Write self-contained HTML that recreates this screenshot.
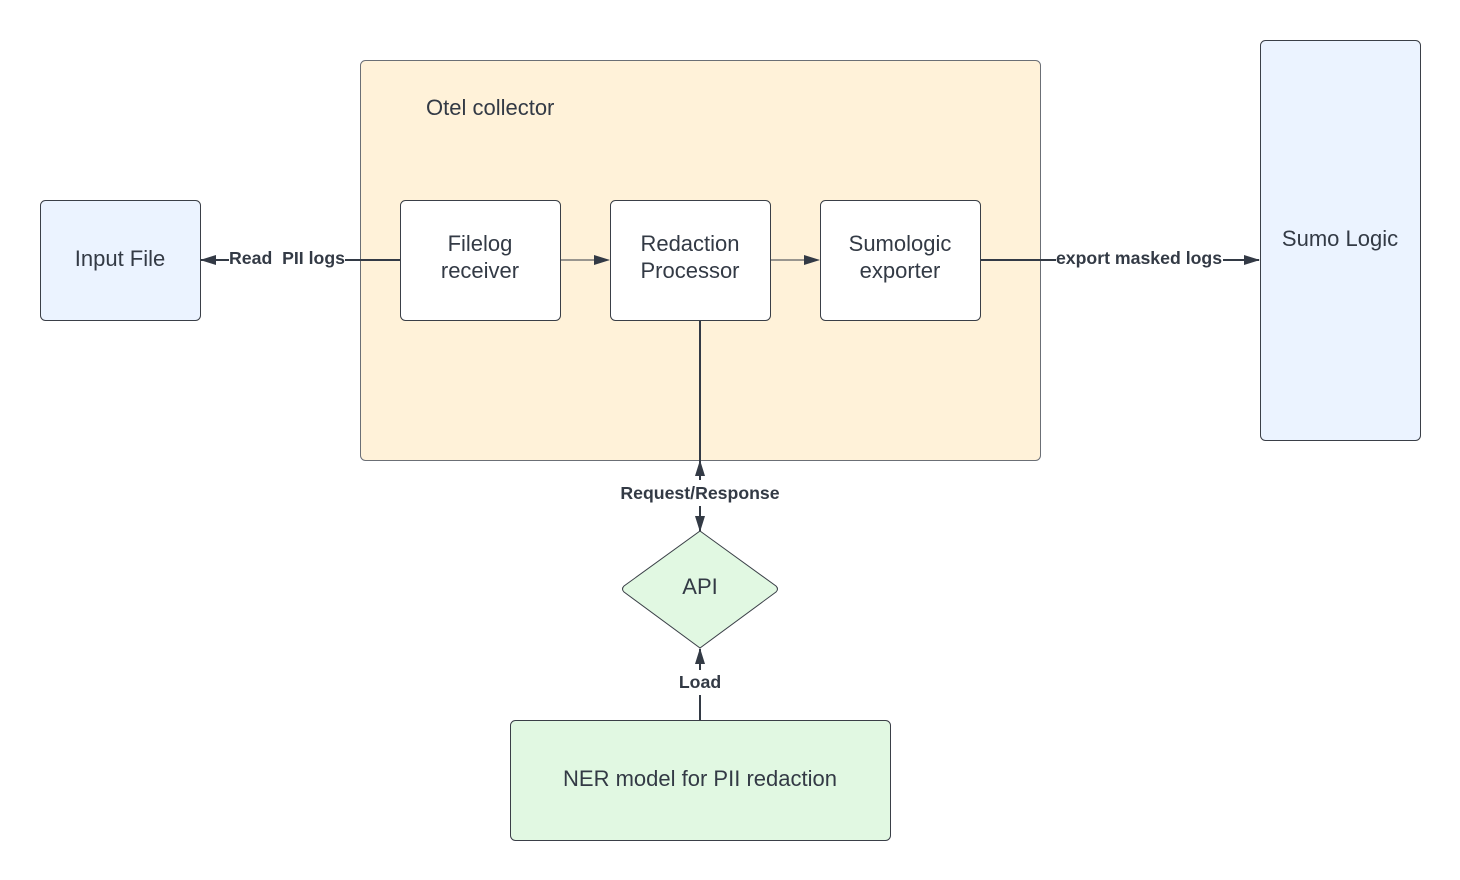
<!DOCTYPE html>
<html><head><meta charset="utf-8"><style>
html,body{margin:0;padding:0;background:#fff;width:1460px;height:880px;overflow:hidden}
svg{display:block}
text{font-family:"Liberation Sans",sans-serif;fill:#333a45}
.n{font-size:22px}
.b{font-size:17.7px;font-weight:bold}
</style></head><body>
<svg width="1460" height="880" viewBox="0 0 1460 880">
<defs>
<marker id="a" markerWidth="16" markerHeight="12" refX="15" refY="6" orient="auto" markerUnits="userSpaceOnUse">
<path d="M0,1 L16,6 L0,11 Z" fill="#333a45"/></marker>
</defs>
<rect x="360.5" y="60.5" width="680" height="400" rx="5" fill="#fff2d9" stroke="#6b6f75" stroke-width="1"/>
<text class="n" x="426" y="115">Otel collector</text>
<rect x="40.5" y="200.5" width="160" height="120" rx="5" fill="#ebf3ff" stroke="#3a3f47"/>
<text class="n" x="120" y="266" text-anchor="middle">Input File</text>
<rect x="1260.5" y="40.5" width="160" height="400" rx="5" fill="#ebf3ff" stroke="#3a3f47"/>
<text class="n" x="1340" y="246" text-anchor="middle">Sumo Logic</text>
<rect x="400.5" y="200.5" width="160" height="120" rx="5" fill="#fff" stroke="#3a3f47"/>
<text class="n" x="480" y="251" text-anchor="middle">Filelog</text>
<text class="n" x="480" y="278" text-anchor="middle">receiver</text>
<rect x="610.5" y="200.5" width="160" height="120" rx="5" fill="#fff" stroke="#3a3f47"/>
<text class="n" x="690" y="251" text-anchor="middle">Redaction</text>
<text class="n" x="690" y="278" text-anchor="middle">Processor</text>
<rect x="820.5" y="200.5" width="160" height="120" rx="5" fill="#fff" stroke="#3a3f47"/>
<text class="n" x="900" y="251" text-anchor="middle">Sumologic</text>
<text class="n" x="900" y="278" text-anchor="middle">exporter</text>
<path d="M700,531 L776,586 Q779,589 776,592 L700,648 L624,592 Q621,589 624,586 Z" fill="#e1f8e2" stroke="#3a3f47"/>
<text class="n" x="700" y="594" text-anchor="middle">API</text>
<rect x="510.5" y="720.5" width="380" height="120" rx="5" fill="#e1f8e2" stroke="#3a3f47"/>
<text class="n" x="700" y="786" text-anchor="middle">NER model for PII redaction</text>
<!-- connectors -->
<line x1="400" y1="260" x2="345" y2="260" stroke="#333a45" stroke-width="2"/>
<line x1="229" y1="260" x2="201" y2="260" stroke="#333a45" stroke-width="2" marker-end="url(#a)"/>
<text class="b" x="287" y="264" text-anchor="middle">Read&#160; PII logs</text>
<line x1="561" y1="260" x2="609" y2="260" stroke="#333a45" stroke-width="1" marker-end="url(#a)"/>
<line x1="771" y1="260" x2="819" y2="260" stroke="#333a45" stroke-width="1" marker-end="url(#a)"/>
<line x1="981" y1="260" x2="1056" y2="260" stroke="#333a45" stroke-width="2"/>
<line x1="1223" y1="260" x2="1259" y2="260" stroke="#333a45" stroke-width="2" marker-end="url(#a)"/>
<text class="b" x="1139" y="264" text-anchor="middle">export masked logs</text>
<line x1="700" y1="321" x2="700" y2="461" stroke="#333a45" stroke-width="2"/>
<line x1="700" y1="480" x2="700" y2="461" stroke="#333a45" stroke-width="2" marker-end="url(#a)"/>
<text class="b" x="700" y="499" text-anchor="middle">Request/Response</text>
<line x1="700" y1="506" x2="700" y2="531" stroke="#333a45" stroke-width="2" marker-end="url(#a)"/>
<line x1="700" y1="720" x2="700" y2="695" stroke="#333a45" stroke-width="2"/>
<text class="b" x="700" y="688" text-anchor="middle">Load</text>
<line x1="700" y1="670" x2="700" y2="649" stroke="#333a45" stroke-width="2" marker-end="url(#a)"/>
</svg>
</body></html>
